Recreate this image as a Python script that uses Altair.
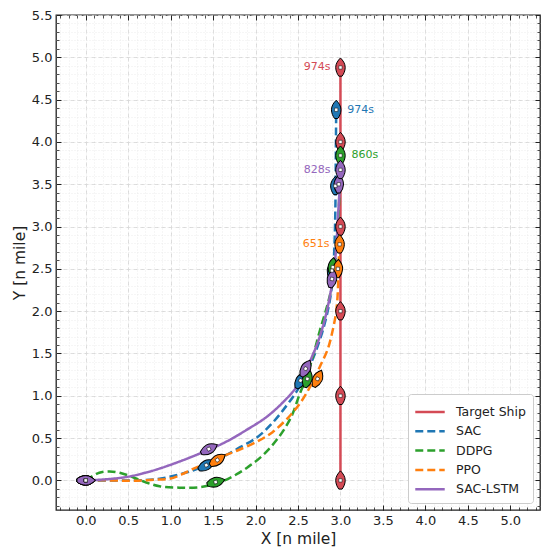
import altair as alt
import pandas as pd

# ---------------- data ----------------
series_names = ["Target Ship", "SAC", "DDPG", "PPO", "SAC-LSTM"]
series_colors = ["#d44a55", "#1f77b4", "#2ca02c", "#ff7f0e", "#9467bd"]
series_dash = [[1, 0], [8, 4], [8, 4], [8, 4], [1, 0]]

target_x = [3.0, 3.0]
target_y = [0.0, 4.88]

sac_x = [0.0, 0.3, 0.6, 0.87, 1.1, 1.27, 1.42, 1.6, 1.78, 2.02, 2.2, 2.37, 2.49, 2.6, 2.7, 2.8, 2.87, 2.91, 2.93, 2.94, 2.945, 2.95]
sac_y = [0.0, 0.0, 0.0, 0.02, 0.07, 0.12, 0.18, 0.27, 0.37, 0.51, 0.68, 0.89, 1.06, 1.27, 1.5, 1.8, 2.1, 2.4, 2.8, 3.2, 3.8, 4.38]

ddpg_x = [0.0, 0.08, 0.16, 0.28, 0.4, 0.55, 0.7, 0.87, 1.1, 1.35, 1.53, 1.7, 1.9, 2.1, 2.28, 2.42, 2.52, 2.6, 2.68, 2.76, 2.84, 2.9, 2.94, 2.97, 2.99, 3.0]
ddpg_y = [0.0, 0.05, 0.09, 0.106, 0.09, 0.04, -0.02, -0.07, -0.086, -0.08, -0.04, 0.03, 0.15, 0.31, 0.52, 0.75, 1.02, 1.22, 1.48, 1.78, 2.05, 2.3, 2.6, 3.0, 3.45, 3.84]

ppo_x = [0.0, 0.28, 0.5, 0.68, 0.85, 0.99, 1.13, 1.27, 1.42, 1.6, 1.78, 2.02, 2.2, 2.41, 2.55, 2.66, 2.76, 2.85, 2.91, 2.95, 2.97, 2.975, 2.99]
ppo_y = [0.0, 0.0, -0.005, 0.0, 0.01, 0.02, 0.07, 0.14, 0.2, 0.28, 0.35, 0.46, 0.57, 0.77, 0.95, 1.14, 1.35, 1.55, 1.78, 2.0, 2.25, 2.5, 2.79]

lstm_x = [0.0, 0.2, 0.48, 0.7, 0.87, 1.15, 1.42, 1.66, 1.9, 2.13, 2.33, 2.48, 2.58, 2.66, 2.74, 2.82, 2.88, 2.92, 2.95, 2.97, 2.99, 3.0]
lstm_y = [0.0, 0.01, 0.04, 0.09, 0.14, 0.24, 0.35, 0.46, 0.6, 0.75, 0.93, 1.1, 1.27, 1.45, 1.65, 1.92, 2.2, 2.45, 2.75, 3.1, 3.45, 3.68]

# ship markers (position and heading in degrees clockwise from north)
target_ship_x = [3.0, 3.0, 3.0, 3.0, 3.0, 3.0]
target_ship_y = [0.0, 1.0, 2.0, 3.0, 4.0, 4.88]
target_ship_h = [0, 0, 0, 0, 0, 0]

sac_ship_x = [0.0, 1.42, 2.53, 2.9, 2.94, 2.95]
sac_ship_y = [0.0, 0.18, 1.18, 2.48, 3.48, 4.38]
sac_ship_h = [90, 62, 28, 5, 0, 0]

ddpg_ship_x = [0.0, 1.53, 2.61, 2.91, 3.0]
ddpg_ship_y = [0.0, -0.02, 1.2, 2.52, 3.84]
ddpg_ship_h = [90, 75, 15, 5, 0]

ppo_ship_x = [0.0, 1.55, 2.73, 2.97, 2.99]
ppo_ship_y = [0.0, 0.24, 1.2, 2.5, 2.79]
ppo_ship_h = [90, 55, 25, 3, 0]

lstm_ship_x = [0.0, 1.45, 2.59, 2.9, 2.98, 3.0]
lstm_ship_y = [0.0, 0.37, 1.32, 2.38, 3.5, 3.67]
lstm_ship_h = [90, 62, 28, 10, 2, 0]

# final-time labels
label_series = ["Target Ship", "SAC", "DDPG", "SAC-LSTM", "PPO"]
label_text = ["974s", "974s", "860s", "828s", "651s"]
label_x = [3.0, 2.95, 3.0, 3.0, 2.99]
label_y = [4.88, 4.38, 3.84, 3.67, 2.79]
label_side = ["left", "right", "right", "left", "left"]

x_major = [0.0, 0.5, 1.0, 1.5, 2.0, 2.5, 3.0, 3.5, 4.0, 4.5, 5.0]
y_major = [0.0, 0.5, 1.0, 1.5, 2.0, 2.5, 3.0, 3.5, 4.0, 4.5, 5.0, 5.5]
x_minor = [round(-0.3 + 0.1 * i, 1) for i in range(57)]
y_minor = [round(-0.3 + 0.1 * i, 1) for i in range(59)]

# ---------------- tables ----------------
line_rows = []
for name, xs_, ys_ in [("Target Ship", target_x, target_y), ("SAC", sac_x, sac_y),
                       ("DDPG", ddpg_x, ddpg_y), ("PPO", ppo_x, ppo_y),
                       ("SAC-LSTM", lstm_x, lstm_y)]:
    for i, (a, b) in enumerate(zip(xs_, ys_)):
        line_rows.append({"series": name, "x": a, "y": b, "order": i})
lines_df = pd.DataFrame(line_rows)

ship_rows = []
for name, xs_, ys_, hs_ in [("Target Ship", target_ship_x, target_ship_y, target_ship_h),
                            ("SAC", sac_ship_x, sac_ship_y, sac_ship_h),
                            ("DDPG", ddpg_ship_x, ddpg_ship_y, ddpg_ship_h),
                            ("PPO", ppo_ship_x, ppo_ship_y, ppo_ship_h),
                            ("SAC-LSTM", lstm_ship_x, lstm_ship_y, lstm_ship_h)]:
    for a, b, h in zip(xs_, ys_, hs_):
        ship_rows.append({"series": name, "x": a, "y": b, "heading": h})
ships_df = pd.DataFrame(ship_rows)
ships_df["k"] = range(len(ships_df))

labels_df = pd.DataFrame({"series": label_series, "text": label_text,
                          "x": label_x, "y": label_y, "side": label_side})

# ---------------- scales & axes ----------------
FONT = "DejaVu Sans"
xs = alt.Scale(domain=[-0.35, 5.35], nice=False, zero=False)
ys = alt.Scale(domain=[-0.35, 5.5], nice=False, zero=False)
col_scale = alt.Scale(domain=series_names, range=series_colors)


def major_axis(orient, title, labels):
    kw = dict(orient=orient, values=(x_major if orient in ("bottom", "top") else y_major),
              offset=-5, tickSize=5, tickWidth=1, tickColor="#222", domain=False,
              labels=labels, title=title if title else None)
    if labels:
        kw.update(format=".1f", labelPadding=4, labelFontSize=13, labelFont=FONT,
                  labelColor="#222", grid=True, gridColor="#d0d0d0", gridDash=[4, 3],
                  gridWidth=0.8, titleFont=FONT, titleFontSize=15.5,
                  titleFontWeight="normal", titleColor="#222", titlePadding=4)
    else:
        kw.update(grid=False)
    return alt.Axis(**kw)


def minor_axis(orient, grid):
    kw = dict(orient=orient, values=(x_minor if orient in ("bottom", "top") else y_minor),
              offset=-3, tickSize=3, tickWidth=0.8, tickColor="#222", domain=False,
              labels=False, title=None, grid=grid)
    if grid:
        kw.update(gridColor="#e6e6e6", gridDash=[1, 2], gridWidth=0.7)
    return alt.Axis(**kw)


lines = alt.Chart(lines_df).mark_line(strokeWidth=2.5, interpolate="catmull-rom").encode(
    x=alt.X("x:Q", scale=xs, axis=major_axis("bottom", "X [n mile]", True)),
    y=alt.Y("y:Q", scale=ys, axis=major_axis("left", "Y [n mile]", True)),
    order="order:Q",
    color=alt.Color("series:N", scale=col_scale, sort=series_names,
                    legend=alt.Legend(title=None)),
    strokeDash=alt.StrokeDash("series:N", scale=alt.Scale(domain=series_names, range=series_dash),
                              sort=series_names, legend=alt.Legend(title=None)),
)

ship_path = ("M0,-1 C0.28,-0.72 0.5,-0.4 0.5,0 C0.5,0.35 0.34,0.7 0.17,0.92 "
             "L-0.17,0.92 C-0.34,0.7 -0.5,0.35 -0.5,0 C-0.5,-0.4 -0.28,-0.72 0,-1 Z")

ships = alt.Chart(ships_df).mark_point(shape=ship_path, size=361, filled=True, opacity=1,
                                       stroke="black", strokeWidth=1).encode(
    x=alt.X("x:Q", scale=xs, axis=minor_axis("bottom", True)),
    y=alt.Y("y:Q", scale=ys, axis=minor_axis("left", True)),
    fill=alt.Fill("series:N", scale=col_scale, legend=None),
    angle=alt.Angle("heading:Q", scale=None),
    order="k:Q",
)

centers = alt.Chart(ships_df).mark_point(shape="square", size=11, filled=True, opacity=1,
                                         fill="white", stroke="black", strokeWidth=0.5).encode(
    x=alt.X("x:Q", scale=xs, axis=major_axis("top", None, False)),
    y=alt.Y("y:Q", scale=ys, axis=major_axis("right", None, False)),
    angle=alt.Angle("heading:Q", scale=None),
)

text_left = alt.Chart(labels_df).transform_filter(alt.datum.side == "left").mark_text(
    align="right", baseline="middle", dx=-10, font=FONT, fontSize=11).encode(
    x=alt.X("x:Q", scale=xs, axis=minor_axis("top", False)),
    y=alt.Y("y:Q", scale=ys, axis=minor_axis("right", False)),
    text="text:N",
    color=alt.Color("series:N", scale=col_scale, legend=None),
)

text_right = alt.Chart(labels_df).transform_filter(alt.datum.side == "right").mark_text(
    align="left", baseline="middle", dx=11, font=FONT, fontSize=11).encode(
    x=alt.X("x:Q", scale=xs, axis=None),
    y=alt.Y("y:Q", scale=ys, axis=None),
    text="text:N",
    color=alt.Color("series:N", scale=col_scale, legend=None),
)

chart = alt.layer(lines, ships, centers, text_left, text_right).resolve_axis(
    x="independent", y="independent"
).properties(
    width=484, height=495,
    autosize=alt.AutoSizeParams(type="none"),
    padding={"left": 48, "top": 7, "right": 2, "bottom": 40},
).configure_view(
    stroke="#222", strokeWidth=1.3
).configure_legend(
    orient="bottom-right", offset=7, padding=7, fillColor="white", strokeColor="#cccccc",
    cornerRadius=3, symbolType="M-1.55,0H1.55", symbolSize=361, symbolStrokeWidth=2.5,
    symbolOffset=4, labelOffset=15, labelFont=FONT, labelFontSize=12.5, labelColor="#222",
    rowPadding=1.3, symbolFillColor="transparent",
)

chart.save("out.html", embed_options={"renderer": "svg", "actions": False})
